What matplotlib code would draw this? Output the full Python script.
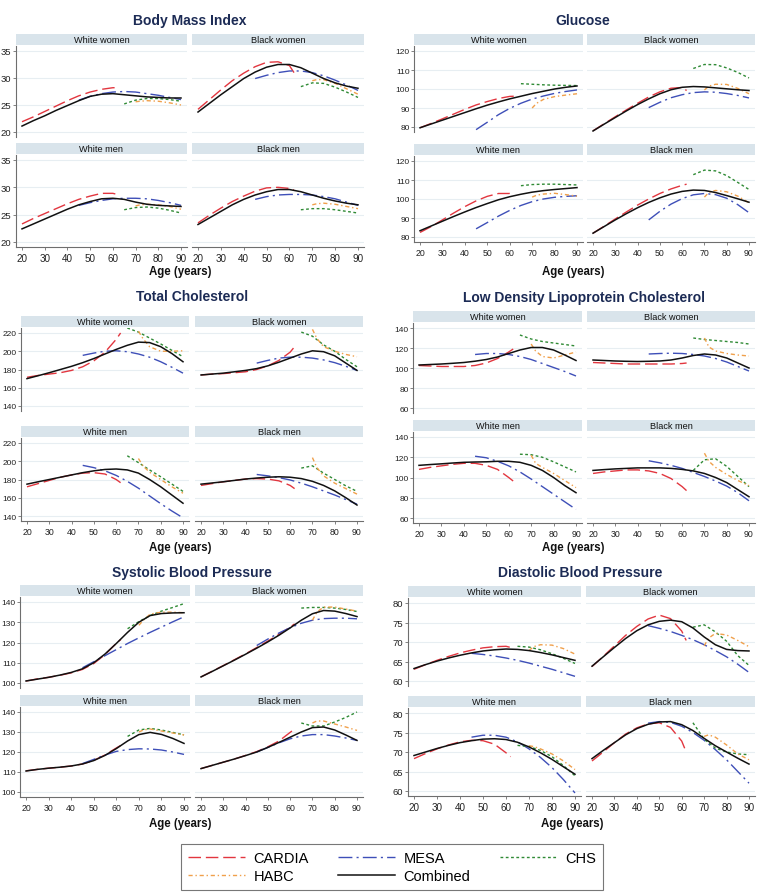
import matplotlib
matplotlib.use("Agg")
import matplotlib.pyplot as plt
from matplotlib.lines import Line2D

plt.rcParams["font.family"] = ["Liberation Sans", "DejaVu Sans"]

AGE_COMBINED = [20, 25, 30, 35, 40, 45, 50, 55, 60, 65, 70, 75, 80, 85, 90]
AGE_CARDIA = [20, 25, 30, 35, 40, 45, 50, 55, 60, 62]
AGE_MESA = [45, 50, 55, 60, 65, 70, 75, 80, 85, 90]
AGE_CHS = [65, 70, 75, 80, 85, 90]
AGE_HABC = [70, 72, 75, 80, 85, 90]

GROUPS = ["White women", "Black women", "White men", "Black men"]
STUDIES = ["CARDIA", "MESA", "CHS", "HABC", "Combined"]

# ─── Body Mass Index (rows: WW, BW, WM, BM) ──────────────────────────────────
bmi_combined = [
    [21.1, 22.1, 23.0, 24.0, 24.9, 25.8, 26.6, 27.0, 27.1, 26.9, 26.7, 26.5, 26.4, 26.3, 26.3],
    [23.7, 25.3, 26.9, 28.4, 29.9, 31.1, 32.0, 32.5, 32.5, 31.9, 30.9, 29.9, 29.1, 28.5, 28.1],
    [22.4, 23.3, 24.2, 25.1, 26.0, 26.8, 27.4, 27.9, 28.0, 27.8, 27.3, 26.9, 26.7, 26.6, 26.5],
    [23.2, 24.4, 25.6, 26.8, 27.8, 28.6, 29.2, 29.6, 29.6, 29.2, 28.6, 28.0, 27.5, 27.1, 26.8],
]
bmi_cardia = [
    [21.9, 22.8, 23.8, 24.8, 25.8, 26.7, 27.4, 27.9, 28.2, 28.2],
    [24.2, 26.0, 27.8, 29.5, 30.9, 32.1, 32.9, 33.0, 32.3, 31.0],
    [23.3, 24.3, 25.2, 26.1, 27.0, 27.8, 28.4, 28.9, 28.9, 28.7],
    [23.5, 24.9, 26.2, 27.4, 28.4, 29.3, 29.9, 30.0, 29.8, 29.5],
]
bmi_mesa = [
    [25.9, 26.6, 27.1, 27.4, 27.5, 27.4, 27.1, 26.8, 26.4, 26.0],
    [29.9, 30.5, 31.0, 31.3, 31.3, 31.0, 30.4, 29.6, 28.7, 27.7],
    [26.7, 27.2, 27.6, 27.9, 28.0, 28.0, 27.9, 27.6, 27.2, 26.7],
    [27.8, 28.3, 28.6, 28.7, 28.7, 28.6, 28.3, 27.9, 27.3, 26.7],
]
bmi_chs = [
    [25.2, 25.9, 26.2, 26.2, 26.0, 25.7],
    [28.4, 29.1, 29.0, 28.3, 27.4, 26.4],
    [25.9, 26.3, 26.4, 26.2, 25.8, 25.3],
    [25.9, 26.1, 26.1, 25.9, 25.6, 25.3],
]
bmi_habc = [
    [25.6, 25.7, 25.8, 25.7, 25.4, 25.0],
    [29.5, 29.7, 29.7, 29.0, 28.0, 27.0],
    [26.6, 26.8, 26.9, 26.8, 26.5, 26.0],
    [26.8, 27.0, 27.1, 26.9, 26.5, 26.1],
]

# ─── Glucose ─────────────────────────────────────────────────────────────────
glu_combined = [
    [79.6, 81.6, 83.6, 85.6, 87.6, 89.6, 91.5, 93.2, 94.8, 96.2, 97.6, 98.8, 100.0, 100.9, 101.6],
    [77.9, 81.5, 85.0, 88.5, 91.8, 94.8, 97.5, 99.6, 100.9, 101.3, 101.1, 100.6, 100.1, 99.6, 99.2],
    [83.3, 85.8, 88.3, 90.8, 93.2, 95.5, 97.6, 99.6, 101.2, 102.5, 103.6, 104.4, 105.0, 105.5, 106.0],
    [82.0, 85.5, 89.0, 92.3, 95.4, 98.2, 100.6, 102.6, 104.0, 104.7, 104.5, 103.4, 101.8, 100.1, 98.3],
]
glu_cardia = [
    [79.6, 81.9, 84.3, 86.8, 89.3, 91.6, 93.4, 95.0, 96.1, 96.2],
    [78.0, 81.7, 85.4, 89.0, 92.5, 95.8, 98.5, 100.4, 100.8, 99.2],
    [82.4, 85.5, 89.0, 92.6, 96.0, 99.0, 101.4, 102.9, 102.9, 102.0],
    [82.0, 85.7, 89.5, 93.2, 96.8, 100.0, 102.9, 105.3, 107.2, 107.8],
]
glu_mesa = [
    [78.6, 82.5, 86.5, 89.8, 92.5, 94.7, 96.3, 97.7, 98.7, 99.5],
    [90.2, 93.0, 95.4, 97.0, 98.1, 98.5, 98.3, 97.6, 96.6, 95.3],
    [84.3, 87.6, 91.0, 94.0, 96.6, 98.6, 100.0, 100.9, 101.4, 101.7],
    [89.0, 93.5, 97.3, 100.2, 102.2, 102.9, 102.3, 100.4, 97.0, 92.8],
]
glu_chs = [
    [102.8, 102.5, 102.2, 102.0, 101.9, 101.8],
    [110.8, 112.9, 112.8, 111.1, 108.7, 105.8],
    [107.0, 107.6, 107.8, 107.8, 107.6, 107.4],
    [112.8, 115.2, 114.8, 112.3, 108.7, 105.0],
]
glu_habc = [
    [90.0, 92.5, 94.5, 96.0, 96.8, 97.5],
    [99.5, 101.5, 102.5, 102.4, 100.3, 97.5],
    [101.0, 102.0, 102.6, 103.0, 102.3, 101.5],
    [101.0, 103.5, 104.5, 103.8, 101.5, 98.0],
]

# ─── Total Cholesterol ───────────────────────────────────────────────────────
tc_combined = [
    [170.0, 173.2, 176.5, 180.0, 183.5, 187.5, 192.0, 197.0, 202.0, 206.5, 210.0, 209.5, 205.0, 197.5, 188.5],
    [174.0, 175.0, 176.0, 177.5, 179.0, 181.0, 184.0, 188.0, 192.5, 197.0, 200.5, 199.5, 195.0, 187.0, 179.0],
    [174.9, 177.5, 180.0, 182.5, 185.0, 187.5, 189.5, 191.0, 191.5, 190.5, 187.0, 180.0, 172.0, 163.0, 154.0],
    [174.9, 176.2, 177.5, 179.0, 180.5, 181.6, 182.5, 183.0, 182.5, 181.0, 178.0, 173.5, 167.5, 160.0, 152.0],
]
tc_cardia = [
    [171.5, 173.5, 175.0, 176.5, 179.0, 183.0, 189.5, 199.0, 213.0, 220.0],
    [174.0, 175.0, 175.5, 176.5, 177.5, 180.0, 184.0, 190.0, 199.0, 205.0],
    [172.0, 175.5, 179.0, 182.5, 185.0, 187.0, 187.5, 186.0, 180.0, 176.5],
    [173.5, 175.5, 177.5, 179.0, 180.5, 181.0, 180.5, 178.5, 173.5, 170.0],
]
tc_mesa = [
    [195.5, 198.0, 200.0, 200.5, 199.5, 197.0, 193.5, 188.5, 182.5, 176.0],
    [187.0, 190.0, 192.5, 193.5, 193.5, 192.5, 190.5, 187.5, 183.5, 179.0],
    [195.5, 193.0, 189.5, 184.5, 178.0, 170.5, 162.0, 153.5, 145.5, 138.0],
    [185.5, 184.0, 182.0, 179.5, 176.0, 172.0, 167.5, 163.0, 158.0, 153.0],
]
tc_chs = [
    [225.5, 221.0, 214.5, 208.0, 201.0, 194.0],
    [221.0, 216.5, 207.0, 200.0, 191.0, 183.0],
    [206.0, 198.5, 190.5, 183.0, 175.0, 167.0],
    [192.5, 195.0, 187.0, 180.0, 173.0, 167.0],
]
tc_habc = [
    [222.0, 214.0, 205.0, 200.0, 200.0, 200.5],
    [224.0, 214.0, 205.0, 200.0, 196.5, 194.0],
    [203.0, 195.0, 188.0, 180.0, 172.0, 165.0],
    [204.0, 193.0, 184.0, 176.0, 170.0, 164.0],
]

# ─── Low Density Lipoprotein Cholesterol ─────────────────────────────────────
ldl_combined = [
    [103.0, 103.5, 104.0, 104.7, 105.5, 106.8, 108.5, 111.0, 114.5, 118.0, 120.5, 120.5, 118.0, 113.0, 107.5],
    [108.0, 107.5, 107.0, 106.7, 106.5, 106.7, 107.0, 108.0, 110.0, 112.5, 114.0, 113.0, 110.0, 105.0, 100.0],
    [112.0, 112.8, 113.5, 114.3, 115.0, 115.3, 115.5, 116.0, 116.0, 115.0, 112.0, 107.0, 100.0, 92.0, 85.0],
    [107.0, 107.8, 108.5, 109.0, 109.5, 109.5, 109.5, 109.0, 108.0, 106.5, 104.0, 100.0, 95.0, 88.0, 81.0],
]
ldl_cardia = [
    [102.5, 102.0, 101.5, 101.5, 101.5, 102.5, 105.0, 109.5, 116.0, 119.0],
    [105.5, 105.0, 104.5, 104.0, 104.0, 104.0, 104.0, 104.0, 104.5, 105.0],
    [108.0, 110.0, 111.5, 113.0, 114.0, 114.0, 112.0, 108.0, 100.0, 96.5],
    [104.0, 105.5, 106.5, 107.5, 107.5, 106.5, 104.0, 99.0, 91.0, 87.0],
]
ldl_mesa = [
    [113.5, 114.5, 114.5, 113.5, 111.5, 108.5, 104.5, 100.5, 96.5, 92.0],
    [114.0, 114.5, 114.8, 114.5, 113.5, 112.0, 109.5, 106.0, 101.5, 97.0],
    [121.0, 119.5, 116.0, 111.5, 105.5, 98.5, 91.0, 83.5, 76.0, 68.5],
    [116.5, 114.5, 112.0, 109.0, 105.0, 101.0, 96.5, 91.5, 85.0, 77.0],
]
ldl_chs = [
    [133.0, 129.0, 126.5, 125.0, 123.5, 122.0],
    [130.0, 128.5, 127.5, 126.5, 125.5, 124.0],
    [123.0, 122.5, 120.0, 115.5, 110.5, 105.5],
    [107.0, 117.5, 118.5, 111.0, 101.0, 91.0],
]
ldl_habc = [
    [124.0, 117.0, 111.5, 110.0, 113.0, 116.0],
    [130.0, 121.0, 117.0, 114.5, 113.0, 112.0],
    [122.0, 114.0, 110.0, 104.0, 97.0, 90.0],
    [124.0, 116.0, 110.0, 103.0, 97.0, 92.0],
]

# ─── Systolic Blood Pressure ─────────────────────────────────────────────────
sbp_combined = [
    [101.0, 101.9, 102.8, 103.9, 105.2, 107.0, 110.0, 114.3, 119.5, 125.0, 130.0, 133.3, 134.3, 134.6, 134.7],
    [103.0, 105.7, 108.5, 111.3, 114.2, 117.2, 120.3, 123.6, 127.2, 131.0, 134.2, 135.8, 135.5, 134.3, 132.8],
    [110.5, 111.3, 111.9, 112.4, 113.0, 114.0, 115.7, 118.3, 121.7, 125.5, 128.7, 129.8, 128.8, 126.8, 124.3],
    [111.7, 113.3, 114.9, 116.5, 118.2, 120.0, 122.3, 124.8, 127.4, 130.0, 132.2, 132.5, 131.0, 128.5, 125.8],
]
sbp_cardia = [
    [101.0, 102.0, 102.8, 103.8, 105.0, 106.7, 109.6, 114.0, 119.6, 121.5],
    [103.0, 105.8, 108.6, 111.5, 114.4, 117.5, 120.7, 124.0, 127.6, 129.2],
    [110.6, 111.3, 111.9, 112.4, 113.0, 114.0, 115.8, 118.5, 122.0, 123.3],
    [111.7, 113.3, 114.9, 116.5, 118.3, 120.2, 122.6, 125.5, 129.8, 131.5],
]
sbp_mesa = [
    [107.5, 110.5, 113.5, 116.5, 119.5, 122.3, 125.0, 127.6, 130.2, 132.7],
    [118.5, 121.7, 124.7, 127.3, 129.5, 131.0, 131.8, 132.0, 132.0, 131.7],
    [114.2, 116.3, 118.5, 120.3, 121.2, 121.6, 121.5, 121.0, 120.0, 118.8],
    [120.0, 122.3, 124.6, 126.6, 128.0, 128.7, 128.7, 128.0, 127.0, 125.8],
]
sbp_chs = [
    [126.8, 130.3, 133.3, 135.5, 137.3, 139.2],
    [137.0, 137.3, 137.3, 137.0, 136.3, 135.3],
    [127.8, 131.0, 131.8, 131.0, 129.8, 128.6],
    [134.5, 133.0, 133.0, 135.0, 137.3, 140.0],
]
sbp_habc = [
    [128.5, 131.0, 134.0, 135.0, 135.0, 134.7],
    [131.0, 135.0, 137.5, 137.5, 136.5, 135.5],
    [130.0, 131.0, 131.5, 130.5, 129.5, 128.5],
    [134.5, 135.5, 135.5, 134.0, 132.5, 130.8],
]

# ─── Diastolic Blood Pressure ────────────────────────────────────────────────
dbp_combined = [
    [63.2, 64.2, 65.1, 65.9, 66.6, 67.2, 67.7, 68.0, 68.2, 68.1, 67.8, 67.3, 66.7, 66.0, 65.3],
    [63.8, 66.2, 68.6, 70.9, 72.9, 74.4, 75.3, 75.6, 75.2, 73.6, 71.3, 69.3, 68.1, 67.8, 67.7],
    [69.1, 70.0, 70.9, 71.7, 72.4, 72.9, 73.3, 73.4, 73.2, 72.5, 71.3, 69.8, 68.1, 66.2, 64.3],
    [68.3, 70.4, 72.4, 74.4, 76.0, 77.1, 77.7, 77.8, 77.0, 75.5, 73.5, 71.6, 70.0, 68.4, 66.9],
]
dbp_cardia = [
    [63.0, 64.2, 65.3, 66.3, 67.2, 67.9, 68.5, 68.8, 68.9, 68.6],
    [63.7, 66.3, 69.0, 71.7, 74.0, 75.9, 76.9, 76.0, 72.8, 70.4],
    [68.3, 69.6, 70.8, 71.8, 72.6, 73.0, 72.9, 72.0, 69.8, 68.8],
    [67.7, 70.0, 72.4, 74.6, 76.2, 77.2, 77.5, 76.3, 72.8, 70.0],
]
dbp_mesa = [
    [67.1, 66.8, 66.4, 65.9, 65.3, 64.6, 63.8, 63.0, 62.1, 61.2],
    [74.2, 73.5, 72.7, 71.7, 70.6, 69.3, 67.8, 66.2, 64.3, 62.2],
    [73.8, 74.3, 74.3, 73.8, 72.6, 70.8, 68.6, 66.0, 62.9, 59.5],
    [77.4, 77.8, 77.6, 76.6, 75.0, 73.0, 70.6, 68.0, 65.0, 62.0],
]
dbp_chs = [
    [68.9, 68.7, 68.0, 67.0, 65.8, 64.5],
    [73.8, 74.4, 72.6, 70.2, 66.5, 64.0],
    [71.7, 71.4, 70.4, 68.8, 66.5, 63.9],
    [77.5, 73.3, 71.0, 70.0, 69.5, 69.3],
]
dbp_habc = [
    [67.8, 68.8, 69.3, 69.2, 68.3, 66.9],
    [69.0, 71.0, 72.2, 71.8, 70.4, 68.8],
    [71.6, 71.4, 70.8, 69.5, 67.7, 65.5],
    [74.0, 74.4, 73.8, 71.8, 69.5, 68.0],
]

# ─── Style ───────────────────────────────────────────────────────────────────
W, H = 760, 895
TITLE_COLOR = "#1c2b55"
STRIP_COLOR = "#d9e4eb"
GRID_COLOR = "#e7eef2"
AXIS_COLOR = "#6e6e6e"

study_ages = {"CARDIA": AGE_CARDIA, "MESA": AGE_MESA, "CHS": AGE_CHS,
              "HABC": AGE_HABC, "Combined": AGE_COMBINED}
study_style = {
    "CARDIA":   dict(color="#e2363f", ls=(0, (9, 3.5)), lw=1.0),
    "MESA":     dict(color="#3e4fb8", ls=(0, (10, 3, 1.5, 3)), lw=1.0),
    "CHS":      dict(color="#2f8a35", ls=(0, (2, 1.8)), lw=1.0),
    "HABC":     dict(color="#f0a04b", ls=(0, (3, 2, 1, 2)), lw=1.0),
    "Combined": dict(color="#111111", ls="-", lw=1.1),
}

# panel layout in pixels: column tick positions (age 20, age 90),
# row tick positions (top tick, bottom tick)
panels = [
    dict(title="Body Mass Index", tpos=(190, 21), xlab=(180, 272),
         cols=[(22, 181), (198, 358)], rows=[(52, 133), (161, 243)],
         yticks=[20, 25, 30, 35], tsize=6.8,
         data=[bmi_cardia, bmi_mesa, bmi_chs, bmi_habc, bmi_combined]),
    dict(title="Glucose", tpos=(583, 21), xlab=(573, 272),
         cols=[(420, 577), (593, 749)], rows=[(52, 128), (162, 238)],
         yticks=[80, 90, 100, 110, 120], tsize=6.0,
         data=[glu_cardia, glu_mesa, glu_chs, glu_habc, glu_combined]),
    dict(title="Total Cholesterol", tpos=(192, 297), xlab=(180, 548),
         cols=[(27, 183), (201, 357)], rows=[(334, 407), (444, 517)],
         yticks=[140, 160, 180, 200, 220], tsize=6.0,
         data=[tc_cardia, tc_mesa, tc_chs, tc_habc, tc_combined]),
    dict(title="Low Density Lipoprotein Cholesterol", tpos=(584, 298), xlab=(573, 548),
         cols=[(419, 576), (593, 749)], rows=[(329, 409), (438, 519)],
         yticks=[60, 80, 100, 120, 140], tsize=6.0,
         data=[ldl_cardia, ldl_mesa, ldl_chs, ldl_habc, ldl_combined]),
    dict(title="Systolic Blood Pressure", tpos=(192, 573), xlab=(180, 824),
         cols=[(26, 184), (201, 357)], rows=[(603, 684), (713, 793)],
         yticks=[100, 110, 120, 130, 140], tsize=6.0,
         data=[sbp_cardia, sbp_mesa, sbp_chs, sbp_habc, sbp_combined]),
    dict(title="Diastolic Blood Pressure", tpos=(580, 573), xlab=(572, 824),
         cols=[(414, 575), (592, 749)], rows=[(604, 682), (714, 792)],
         yticks=[60, 65, 70, 75, 80], tsize=6.8,
         data=[dbp_cardia, dbp_mesa, dbp_chs, dbp_habc, dbp_combined]),
]


def px_axes(fig, x0, y0, x1, y1):
    return fig.add_axes([x0 / W, 1 - y1 / H, (x1 - x0) / W, (y1 - y0) / H])


fig = plt.figure(figsize=(W / 100, H / 100), dpi=100)
fig.patch.set_facecolor("white")

for p in panels:
    fig.text(p["tpos"][0] / W, 1 - p["tpos"][1] / H, p["title"], ha="center",
             va="center", fontsize=10, fontweight="bold", color=TITLE_COLOR)
    fig.text(p["xlab"][0] / W, 1 - p["xlab"][1] / H, "Age (years)", ha="center",
             va="center", fontsize=8.3, fontweight="bold", color="#111111")
    vtop, vbot = p["yticks"][-1], p["yticks"][0]
    for gi, group in enumerate(GROUPS):
        r, c = divmod(gi, 2)
        x20, x90 = p["cols"][c]
        ytp, ybp = p["rows"][r]
        ppx = (x90 - x20) / 70.0
        ppu = (ybp - ytp) / float(vtop - vbot)
        x0, x1 = x20 - 2.5 * ppx, x90 + 2.5 * ppx
        y0, y1 = ytp - 5, ybp + 5
        ax = px_axes(fig, x0, y0, x1, y1)
        ax.set_xlim(17.5, 92.5)
        ax.set_ylim(vbot - 5 / ppu, vtop + 5 / ppu)

        for si, study in enumerate(STUDIES):
            st = study_style[study]
            ax.plot(study_ages[study], p["data"][si][gi], color=st["color"],
                    linestyle=st["ls"], linewidth=st["lw"], zorder=3 + si)

        ax.set_yticks(p["yticks"])
        ax.set_xticks(range(20, 91, 10))
        ax.yaxis.grid(True, color=GRID_COLOR, linewidth=0.8)
        ax.set_axisbelow(True)
        for s in ["top", "right"]:
            ax.spines[s].set_visible(False)
        ax.spines["left"].set_visible(c == 0)
        ax.spines["bottom"].set_visible(r == 1)
        ax.spines["left"].set_color(AXIS_COLOR)
        ax.spines["bottom"].set_color(AXIS_COLOR)
        ax.spines["left"].set_linewidth(0.8)
        ax.spines["bottom"].set_linewidth(0.8)
        ax.tick_params(axis="y", left=(c == 0), labelleft=(c == 0), length=2.5,
                       width=0.6, color=AXIS_COLOR, labelsize=p["tsize"], pad=1,
                       labelcolor="#222222")
        ax.tick_params(axis="x", bottom=(r == 1), labelbottom=(r == 1), length=2.5,
                       width=0.6, color=AXIS_COLOR, labelsize=p["tsize"] + 0.3,
                       pad=1.5, labelcolor="#222222")

        # strip header
        sax = px_axes(fig, x0, y0 - 12, x1, y0 - 1)
        sax.set_facecolor(STRIP_COLOR)
        sax.set_xticks([])
        sax.set_yticks([])
        for s in sax.spines.values():
            s.set_visible(False)
        sax.text(0.5, 0.5, group, ha="center", va="center", fontsize=6.6,
                 color="#111111", transform=sax.transAxes)

# ─── Legend ──────────────────────────────────────────────────────────────────
handles = []
for study in ["CARDIA", "HABC", "MESA", "Combined", "CHS"]:
    st = study_style[study]
    handles.append(Line2D([], [], color=st["color"], linestyle=st["ls"],
                          linewidth=st["lw"], label=study))
leg = fig.legend(handles=handles, ncol=3, loc="center",
                 bbox_to_anchor=(392 / W, 1 - 868 / H), fontsize=10.5,
                 handlelength=3.9, columnspacing=2.0, handletextpad=0.6,
                 labelspacing=0.3, frameon=True, fancybox=False,
                 borderpad=0.5)
leg.get_frame().set_edgecolor("#555555")
leg.get_frame().set_linewidth(0.8)

fig.savefig("out.png", dpi=100, facecolor="white")
